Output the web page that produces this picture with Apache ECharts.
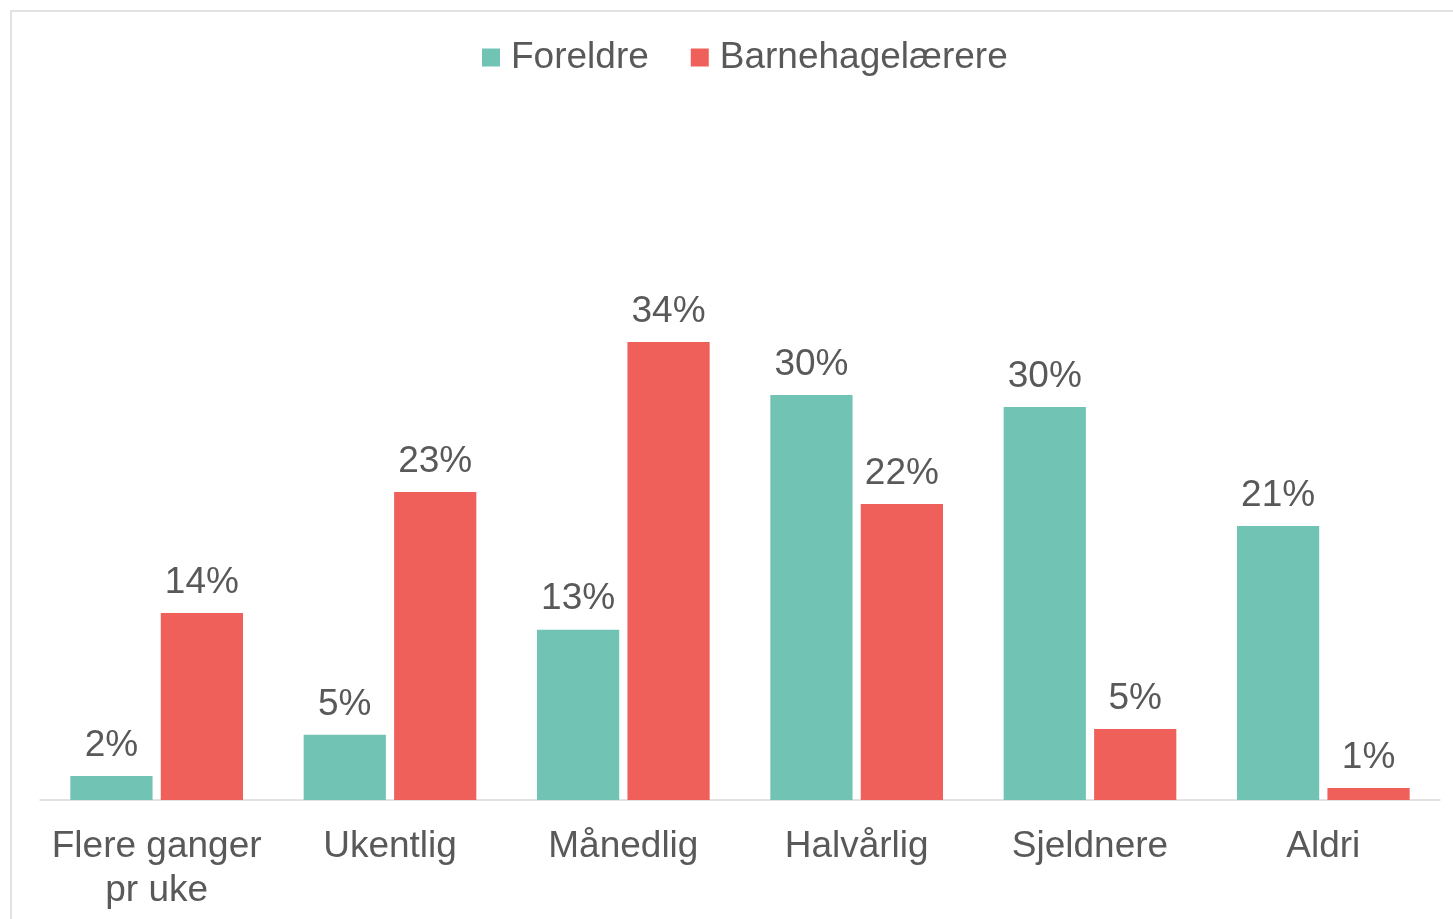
<!DOCTYPE html>
<html>
<head>
<meta charset="utf-8">
<script src="https://cdn.jsdelivr.net/npm/echarts@6/dist/echarts.min.js"></script>
<style>
  html, body { margin: 0; padding: 0; background: #fff; }
  #chart { width: 1453px; height: 919px; }
</style>
</head>
<body>
<div id="chart"></div>
<script>
const categories = ["Flere ganger\npr uke", "Ukentlig", "Månedlig", "Halvårlig", "Sjeldnere", "Aldri"];
const foreldre = [1.8, 4.9, 12.8, 30.45, 29.55, 20.6];
const barnehagelaerere = [14.06, 23.16, 34.44, 22.26, 5.34, 0.9];
const seriesNames = ["Foreldre", "Barnehagelærere"];

const textColor = "#595959";
const font = "'Liberation Sans', Arial, sans-serif";

const chart = echarts.init(document.getElementById("chart"), null, { renderer: "canvas" });

const label = {
  show: true,
  position: "top",
  distance: 12,
  color: textColor,
  fontFamily: font,
  fontSize: 37,
  formatter: (p) => Math.round(p.value) + "%",
};

chart.setOption({
  animation: false,
  backgroundColor: "#fff",
  graphic: [
    {
      type: "rect",
      shape: { x: 11, y: 11, width: 1460, height: 930 },
      style: { fill: "none", stroke: "#e2e2e2", lineWidth: 2 },
      silent: true,
    },
  ],
  legend: {
    left: 477,
    top: 34,
    itemWidth: 18,
    itemHeight: 18,
    itemGap: 42,
    icon: "rect",
    textStyle: {
      color: textColor,
      fontFamily: font,
      fontSize: 37,
      padding: [0, 0, 0, 6],
    },
    data: seriesNames,
  },
  grid: { left: 40, right: 13, top: 135, bottom: 119, containLabel: false },
  xAxis: {
    type: "category",
    data: categories,
    axisLine: { lineStyle: { color: "#d9d9d9", width: 1.5 } },
    axisTick: { show: false },
    axisLabel: {
      color: textColor,
      fontFamily: font,
      fontSize: 37,
      lineHeight: 44,
      margin: 25,
      interval: 0,
    },
  },
  yAxis: {
    type: "value",
    min: 0,
    max: 50,
    show: false,
    splitLine: { show: false },
  },
  series: [
    {
      name: seriesNames[0],
      type: "bar",
      data: foreldre,
      itemStyle: { color: "#71C4B4" },
      barGap: "10%",
      barCategoryGap: "26%",
      label,
    },
    {
      name: seriesNames[1],
      type: "bar",
      data: barnehagelaerere,
      itemStyle: { color: "#F0605A" },
      barGap: "10%",
      barCategoryGap: "26%",
      label,
    },
  ],
});
</script>
</body>
</html>
